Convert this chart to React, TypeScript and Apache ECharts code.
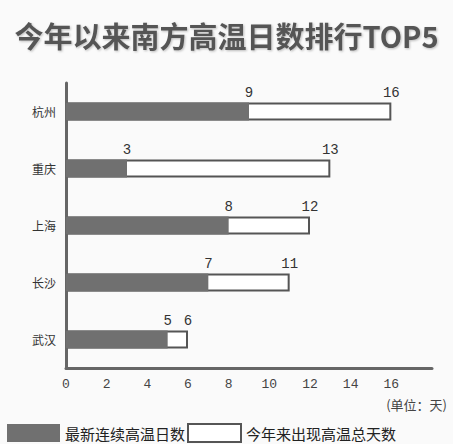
import React, { useEffect, useRef } from "react";
import * as echarts from "echarts";

const cities = ["杭州", "重庆", "上海", "长沙", "武汉"];
const consecutiveDays = [9, 3, 8, 7, 5];
const totalDays = [16, 13, 12, 11, 6];
const xTicks = [0, 2, 4, 6, 8, 10, 12, 14, 16];

export default function App() {
  const ref = useRef<HTMLDivElement>(null);
  useEffect(() => {
    const chart = echarts.init(ref.current!, null, { renderer: "svg" });
    const labelStyle = {
      show: true,
      position: ["100%", -3] as any,
      align: "center",
      verticalAlign: "bottom",
      fontFamily: "Liberation Mono",
      fontSize: 14,
      color: "#333",
    };
    chart.setOption({
      animation: false,
      backgroundColor: "#fafafa",
      title: {
        text: "今年以来南方高温日数排行TOP5",
        left: "center",
        top: 15,
        textStyle: {
          fontSize: 29,
          fontWeight: "bold",
          color: "#555",
          fontFamily: "Noto Sans CJK SC",
          textShadowColor: "rgba(0,0,0,0.25)",
          textShadowBlur: 2,
          textShadowOffsetX: 1,
          textShadowOffsetY: 1,
        },
      },
      grid: { left: 66, top: 83, right: 21, bottom: 76 },
      legend: {
        data: ["最新连续高温日数", "今年来出现高温总天数"],
        left: 5,
        bottom: 0,
        padding: [0, 0, 1, 2],
        icon: "rect",
        itemWidth: 53,
        itemHeight: 18,
        itemGap: 2,
        textStyle: { fontSize: 15, color: "#222", fontFamily: "Noto Sans CJK SC" },
      },
      xAxis: {
        type: "value",
        min: 0,
        max: 18,
        interval: 2,
        axisLine: { show: true, lineStyle: { color: "#666", width: 3 } },
        axisTick: { show: false },
        splitLine: { show: false },
        axisLabel: {
          margin: 10,
          fontFamily: "Liberation Mono",
          fontSize: 13,
          color: "#444",
          formatter: (v: number) => (xTicks.includes(v) ? String(v) : ""),
        },
      },
      yAxis: {
        type: "category",
        inverse: true,
        data: cities,
        axisLine: { show: true, lineStyle: { color: "#666", width: 3 } },
        axisTick: { show: false },
        axisLabel: { margin: 10, fontSize: 12, color: "#333", fontFamily: "Noto Sans CJK SC" },
      },
      series: [
        {
          name: "今年来出现高温总天数",
          type: "bar",
          data: totalDays,
          barWidth: 18,
          barGap: "-100%",
          itemStyle: { color: "#ffffff", borderColor: "#555", borderWidth: 2 },
          label: labelStyle,
          z: 2,
        },
        {
          name: "最新连续高温日数",
          type: "bar",
          data: consecutiveDays,
          barWidth: 18,
          barGap: "-100%",
          itemStyle: { color: "#707070" },
          label: labelStyle,
          z: 3,
        },
      ],
      graphic: [
        {
          type: "text",
          right: 6,
          top: 398,
          style: { text: "(单位：天)", fontSize: 13, fill: "#444", fontFamily: "Noto Sans CJK SC" },
        },
      ],
    });
    return () => chart.dispose();
  }, []);
  return (
    <div
      ref={ref}
      style={{ position: "fixed", left: 0, top: 0, width: 453, height: 444 }}
    />
  );
}
